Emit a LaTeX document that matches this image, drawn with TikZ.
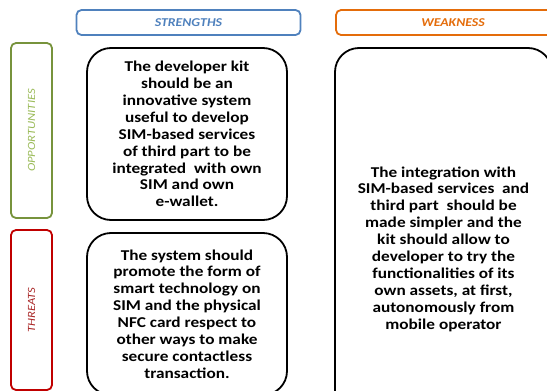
\documentclass[tikz,border=0pt]{standalone}
\usepackage{fontspec}
\setmainfont{Carlito}[FakeStretch=1.15]
\usepackage{tikz}
\definecolor{swotblue}{RGB}{79,129,189}
\definecolor{swotorange}{RGB}{228,108,10}
\definecolor{swotgreen}{RGB}{119,147,60}
\definecolor{swotlightgreen}{RGB}{155,187,89}
\definecolor{swotred}{RGB}{192,0,0}
\definecolor{swotdarkred}{RGB}{170,40,40}

\begin{document}
\begin{tikzpicture}[x=1pt, y=-1pt,
      head/.style={rectangle, rounded corners=5pt, draw, line width=1.8pt, fill=white, minimum height=25pt, font=\fontsize{12}{14}\selectfont\bfseries\itshape},
      side/.style={rectangle, rounded corners=5pt, draw, line width=1.8pt, fill=white, minimum width=41pt},
      sidelabel/.style={rotate=90, font=\fontsize{11}{13}\selectfont\itshape},
      cell/.style={rectangle, rounded corners=24pt, draw=black, line width=1.8pt, fill=white, align=center, inner sep=0pt, font=\fontsize{15}{16.9}\selectfont\bfseries}
    ]
      \useasboundingbox (0,0) rectangle (547,391);
      \clip (0,0) rectangle (547,391);

      % Column headers
      \node[head, draw=swotblue, text=swotblue, minimum width=224pt] (strengths) at (188.5,22.5) {STRENGTHS};
      \node[head, draw=swotorange, text=swotorange, minimum width=234pt] (weakness) at (453,22.5) {WEAKNESS};

      % Row headers
      \node[side, draw=swotgreen, minimum height=175pt] (opportunities) at (31.5,130.5) {};
      \node[sidelabel, text=swotlightgreen] (opplabel) at (opportunities.center) {OPPORTUNITIES};
      \node[side, draw=swotred, minimum height=160pt] (threats) at (31.5,310) {};
      \node[sidelabel, text=swotdarkred] (thrlabel) at (threats.center) {THREATS};

      % Cells
      \node[cell, minimum width=200pt, minimum height=172pt] (so) at (187,134) {The developer kit\\should be an\\innovative system\\useful to develop\\SIM-based services\\of third part to be\\integrated\ \ with own\\SIM and own\\e-wallet.};
      \node[cell, minimum width=200pt, minimum height=162pt] (st) at (187,314) {The system should\\promote the form of\\smart technology on\\SIM and the physical\\NFC card respect to\\other ways to make\\secure contactless\\transaction.};
      \node[cell, minimum width=217pt, minimum height=402pt] (wo) at (443.5,249) {The integration with\\SIM-based services\ \ and\\third part\ \ should be\\made simpler and the\\kit should allow to\\developer to try the\\functionalities of its\\own assets, at first,\\autonomously from\\mobile operator};
    \end{tikzpicture}
\end{document}
